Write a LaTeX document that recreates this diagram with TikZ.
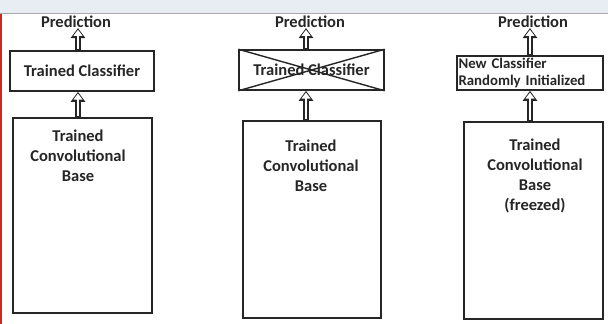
\documentclass[tikz,border=0pt]{standalone}
\usepackage{fontspec}
\setmainfont{Carlito}
\usetikzlibrary{arrows.meta}

\definecolor{bandgray}{HTML}{E8ECF3}
\definecolor{rulegray}{HTML}{A8A8A8}
\definecolor{edgered}{HTML}{D8261E}
\definecolor{inkgray}{HTML}{262626}

\begin{document}
\begin{tikzpicture}[x=1pt,y=-1pt,
  every node/.style={font=\fontsize{16.5}{20}\selectfont\bfseries,text=inkgray,inner sep=0pt},
  box/.style={draw=inkgray,line width=1.6pt,fill=white},
  basetext/.style={anchor=north,align=center},
  hollow/.style={draw=white,line width=2.8pt,-{Triangle[width=8.5pt,length=6pt]},shorten <=1pt,shorten >=1.7pt,
    preaction={draw=inkgray,line width=6pt,-{Triangle[width=14pt,length=10pt]},shorten <=0pt,shorten >=0pt}}]
  \useasboundingbox (0,0) rectangle (608,324);
  \fill[bandgray] (0,0) rectangle (608,13);
  \draw[rulegray,line width=1.5pt] (0,13.5) -- (608,13.5);
  \draw[edgered,line width=1.6pt] (0.8,14.2) -- (0.8,324);

  % convolutional bases
  \node[box,minimum width=139pt,minimum height=195pt] (base1) at (82.5,215.5) {};
  \node[box,minimum width=138pt,minimum height=197pt] (base2) at (312,219.5) {};
  \node[box,minimum width=139pt,minimum height=197pt] (base3) at (533.5,220.5) {};
  \node[basetext] (txt1) at (78,130) {Trained\\Convolutional\\Base};
  \node[basetext] (txt2) at (311,140) {Trained\\Convolutional\\Base};
  \node[basetext] (txt3) at (535,139) {Trained\\Convolutional\\Base\\(freezed)};

  % classifiers
  \node[box,minimum width=144pt,minimum height=40pt] (cls1) at (82,71) {Trained Classifier};
  \node[box,minimum width=145pt,minimum height=40pt] (cls2) at (311.5,70) {Trained Classifier};
  \node[box,minimum width=146pt,minimum height=34pt,text width=143pt,align=left,
    font=\fontsize{14.8}{17.5}\selectfont\bfseries] (cls3) at (530,73) {New Classifier\\Randomly Initialized};
  \draw[inkgray,line width=1.4pt] (cls2.north west) -- (cls2.south east) (cls2.south west) -- (cls2.north east);

  % outputs
  \node (pred1) at (76,22) {Prediction};
  \node (pred2) at (310,22) {Prediction};
  \node (pred3) at (533,22) {Prediction};

  \foreach \from/\to/\ax in {base1/cls1/78,cls1/pred1/78,base2/cls2/306,cls2/pred2/306,base3/cls3/530,cls3/pred3/530}
    \draw[hollow] (\ax,0 |- \from.north) -- (\ax,0 |- \to.south);
\end{tikzpicture}
\end{document}
